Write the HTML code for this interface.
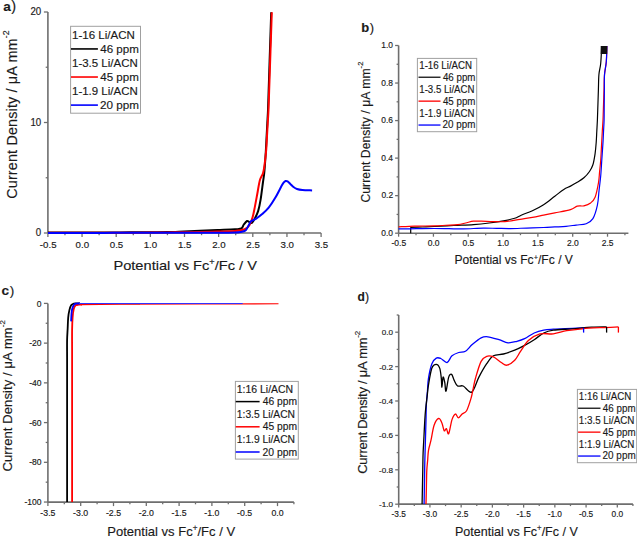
<!DOCTYPE html><html><head><meta charset="utf-8"><style>html,body{margin:0;padding:0;background:#fff;width:637px;height:536px;overflow:hidden}svg{display:block}text{font-family:"Liberation Sans",sans-serif;stroke:#1a1a1a;stroke-width:0.15px}.tk{stroke-width:0.16px}</style></head><body>
<svg width="637" height="536" viewBox="0 0 637 536">
<rect width="637" height="536" fill="#fff"/>
<line x1="47.9" y1="233" x2="321.1" y2="233" stroke="#6e6e6e" stroke-width="1.6"/>
<line x1="47.9" y1="233" x2="47.9" y2="12" stroke="#6e6e6e" stroke-width="1.6"/>
<line x1="47.9" y1="233" x2="47.9" y2="237" stroke="#6e6e6e" stroke-width="1.2800000000000002"/>
<line x1="64.97" y1="233" x2="64.97" y2="235.2" stroke="#6e6e6e" stroke-width="1.2800000000000002"/>
<line x1="82.05" y1="233" x2="82.05" y2="237" stroke="#6e6e6e" stroke-width="1.2800000000000002"/>
<line x1="99.12" y1="233" x2="99.12" y2="235.2" stroke="#6e6e6e" stroke-width="1.2800000000000002"/>
<line x1="116.2" y1="233" x2="116.2" y2="237" stroke="#6e6e6e" stroke-width="1.2800000000000002"/>
<line x1="133.28" y1="233" x2="133.28" y2="235.2" stroke="#6e6e6e" stroke-width="1.2800000000000002"/>
<line x1="150.35" y1="233" x2="150.35" y2="237" stroke="#6e6e6e" stroke-width="1.2800000000000002"/>
<line x1="167.42" y1="233" x2="167.42" y2="235.2" stroke="#6e6e6e" stroke-width="1.2800000000000002"/>
<line x1="184.5" y1="233" x2="184.5" y2="237" stroke="#6e6e6e" stroke-width="1.2800000000000002"/>
<line x1="201.57" y1="233" x2="201.57" y2="235.2" stroke="#6e6e6e" stroke-width="1.2800000000000002"/>
<line x1="218.65" y1="233" x2="218.65" y2="237" stroke="#6e6e6e" stroke-width="1.2800000000000002"/>
<line x1="235.72" y1="233" x2="235.72" y2="235.2" stroke="#6e6e6e" stroke-width="1.2800000000000002"/>
<line x1="252.8" y1="233" x2="252.8" y2="237" stroke="#6e6e6e" stroke-width="1.2800000000000002"/>
<line x1="269.88" y1="233" x2="269.88" y2="235.2" stroke="#6e6e6e" stroke-width="1.2800000000000002"/>
<line x1="286.95" y1="233" x2="286.95" y2="237" stroke="#6e6e6e" stroke-width="1.2800000000000002"/>
<line x1="304.02" y1="233" x2="304.02" y2="235.2" stroke="#6e6e6e" stroke-width="1.2800000000000002"/>
<line x1="321.1" y1="233" x2="321.1" y2="237" stroke="#6e6e6e" stroke-width="1.2800000000000002"/>
<line x1="43.9" y1="233" x2="47.9" y2="233" stroke="#6e6e6e" stroke-width="1.2800000000000002"/>
<line x1="45.7" y1="177.75" x2="47.9" y2="177.75" stroke="#6e6e6e" stroke-width="1.2800000000000002"/>
<line x1="43.9" y1="122.5" x2="47.9" y2="122.5" stroke="#6e6e6e" stroke-width="1.2800000000000002"/>
<line x1="45.7" y1="67.25" x2="47.9" y2="67.25" stroke="#6e6e6e" stroke-width="1.2800000000000002"/>
<line x1="43.9" y1="12" x2="47.9" y2="12" stroke="#6e6e6e" stroke-width="1.2800000000000002"/>
<text x="39.83" y="248.1" font-size="9.9" fill="#1a1a1a" textLength="16.72" lengthAdjust="spacingAndGlyphs" class="tk">-0.5</text>
<text x="75.61" y="248.1" font-size="9.9" fill="#1a1a1a" textLength="13.49" lengthAdjust="spacingAndGlyphs" class="tk">0.0</text>
<text x="109.77" y="248.1" font-size="9.9" fill="#1a1a1a" textLength="13.49" lengthAdjust="spacingAndGlyphs" class="tk">0.5</text>
<text x="143.73" y="248.1" font-size="9.9" fill="#1a1a1a" textLength="13.49" lengthAdjust="spacingAndGlyphs" class="tk">1.0</text>
<text x="177.89" y="248.1" font-size="9.9" fill="#1a1a1a" textLength="13.49" lengthAdjust="spacingAndGlyphs" class="tk">1.5</text>
<text x="212.15" y="248.1" font-size="9.9" fill="#1a1a1a" textLength="13.49" lengthAdjust="spacingAndGlyphs" class="tk">2.0</text>
<text x="246.32" y="248.1" font-size="9.9" fill="#1a1a1a" textLength="13.49" lengthAdjust="spacingAndGlyphs" class="tk">2.5</text>
<text x="280.51" y="248.1" font-size="9.9" fill="#1a1a1a" textLength="13.49" lengthAdjust="spacingAndGlyphs" class="tk">3.0</text>
<text x="314.68" y="248.1" font-size="9.9" fill="#1a1a1a" textLength="13.49" lengthAdjust="spacingAndGlyphs" class="tk">3.5</text>
<text x="35.78" y="236.3" font-size="10" fill="#1a1a1a" textLength="5.39" lengthAdjust="spacingAndGlyphs" class="tk">0</text>
<text x="30.39" y="125.8" font-size="10" fill="#1a1a1a" textLength="10.79" lengthAdjust="spacingAndGlyphs" class="tk">10</text>
<text x="30.39" y="15.3" font-size="10" fill="#1a1a1a" textLength="10.79" lengthAdjust="spacingAndGlyphs" class="tk">20</text>
<text x="3.2" y="10.8" font-size="13.6" font-weight="bold" fill="#1a1a1a">a</text>
<text x="11.21" y="10.58" font-size="14.6" fill="#1a1a1a">)</text>
<text transform="translate(16.5,198.8) rotate(-90)" font-size="14.4" fill="#1a1a1a" textLength="168.5">Current Density / μA mm<tspan dy="-7.4" font-size="8.8">-2</tspan></text>
<text x="113.4" y="269.8" font-size="13.6" fill="#1a1a1a" textLength="143.6" lengthAdjust="spacingAndGlyphs">Potential vs Fc<tspan dy="-5" font-size="8.5">+</tspan><tspan dy="5">/Fc / V</tspan></text>
<rect x="70.6" y="26.3" width="69.9" height="86.9" fill="#fff" stroke="#a0a0a0" stroke-width="1"/>
<text x="72.02" y="38.8" font-size="11.4" fill="#1a1a1a" textLength="62.92" lengthAdjust="spacingAndGlyphs" >1-16 Li/ACN</text>
<text x="100.23" y="52.84" font-size="11.4" fill="#1a1a1a" textLength="38.63" lengthAdjust="spacingAndGlyphs" >46 ppm</text>
<line x1="71" y1="48.94" x2="97.9" y2="48.94" stroke="#000000" stroke-width="1.6"/>
<text x="72.03" y="66.88" font-size="11.4" fill="#1a1a1a" textLength="65.71" lengthAdjust="spacingAndGlyphs" >1-3.5 Li/ACN</text>
<text x="100.23" y="80.92" font-size="11.4" fill="#1a1a1a" textLength="38.63" lengthAdjust="spacingAndGlyphs" >45 ppm</text>
<line x1="71" y1="77.02" x2="97.9" y2="77.02" stroke="#ff0000" stroke-width="1.6"/>
<text x="72.03" y="94.96" font-size="11.4" fill="#1a1a1a" textLength="65.71" lengthAdjust="spacingAndGlyphs" >1-1.9 Li/ACN</text>
<text x="99.91" y="109" font-size="11.4" fill="#1a1a1a" textLength="38.96" lengthAdjust="spacingAndGlyphs" >20 ppm</text>
<line x1="71" y1="105.1" x2="97.9" y2="105.1" stroke="#0000ff" stroke-width="1.6"/>
<path d="M48,232.6 C51,232.59 60,232.57 66,232.55 C72,232.53 78,232.52 84,232.5 C90,232.48 96,232.47 102,232.45 C108,232.43 114.33,232.43 120,232.4 C125.67,232.38 130.67,232.33 136,232.3 C141.33,232.27 146.67,232.23 152,232.2 C157.33,232.17 162.67,232.22 168,232.1 C173.33,231.97 178.67,231.67 184,231.45 C189.33,231.23 194.42,231.03 200,230.8 C205.58,230.57 211.67,230.3 217.5,230.05 C223.33,229.8 231.02,229.56 235,229.3 C238.98,229.04 239.93,229.3 241.4,228.5 C242.87,227.7 242.87,225.75 243.8,224.5 C244.73,223.25 246.07,221.4 247,221 C247.93,220.6 248.6,221.78 249.4,222.1 C250.2,222.42 250.87,223.57 251.8,222.9 C252.73,222.23 253.93,220.1 255,218.1 C256.07,216.1 257.27,213.97 258.2,210.9 C259.13,207.83 259.8,204.52 260.6,199.7 C261.4,194.88 262.38,186.55 263,182 C263.62,177.45 263.9,176.4 264.3,172.4 C264.7,168.4 265.13,161.73 265.4,158 C265.67,154.27 265.7,153.56 265.9,150 C266.1,146.44 266.37,141.11 266.6,136.67 C266.83,132.22 267.07,127.78 267.3,123.33 C267.53,118.89 267.78,115.48 268,110 C268.22,104.52 268.43,96.97 268.64,90.46 C268.85,83.95 269.07,77.43 269.28,70.92 C269.49,64.41 269.71,57.89 269.92,51.38 C270.13,44.87 270.35,38.35 270.56,31.84 C270.77,25.33 271.09,15.56 271.2,12.3" fill="none" stroke="#000000" stroke-width="2.0" stroke-linejoin="round" stroke-linecap="butt"/>
<path d="M48,232.8 C50.83,232.79 59.33,232.78 65,232.77 C70.67,232.76 76.33,232.74 82,232.73 C87.67,232.72 93.33,232.71 99,232.7 C104.67,232.69 110.33,232.68 116,232.67 C121.67,232.66 127.33,232.64 133,232.63 C138.67,232.62 144.39,232.64 150,232.6 C155.61,232.56 161.11,232.47 166.67,232.4 C172.22,232.33 177.78,232.27 183.33,232.2 C188.89,232.13 194.31,232.12 200,232 C205.69,231.88 211.67,231.67 217.5,231.5 C223.33,231.33 230.48,231.37 235,231 C239.52,230.63 242.2,230.25 244.6,229.3 C247,228.35 248.07,227.3 249.4,225.3 C250.73,223.3 251.67,220.5 252.6,217.3 C253.53,214.1 254.2,210.1 255,206.1 C255.8,202.1 256.6,197.58 257.4,193.3 C258.2,189.02 258.87,183.75 259.8,180.4 C260.73,177.05 262.2,175.87 263,173.2 C263.8,170.53 264.07,168.27 264.6,164.4 C265.13,160.53 265.81,154.62 266.2,150 C266.59,145.38 266.71,141.11 266.97,136.67 C267.22,132.22 267.48,127.78 267.73,123.33 C267.99,118.89 268.26,115.48 268.5,110 C268.74,104.52 268.94,96.97 269.16,90.46 C269.38,83.95 269.6,77.43 269.82,70.92 C270.04,64.41 270.26,57.89 270.48,51.38 C270.7,44.87 270.92,38.35 271.14,31.84 C271.36,25.33 271.69,15.56 271.8,12.3" fill="none" stroke="#ff0000" stroke-width="2.0" stroke-linejoin="round" stroke-linecap="butt"/>
<path d="M48,233 C51.12,232.99 60.47,232.97 66.7,232.96 C72.93,232.95 79.17,232.93 85.4,232.92 C91.63,232.91 97.87,232.89 104.1,232.88 C110.33,232.87 116.57,232.85 122.8,232.84 C129.03,232.83 135.27,232.81 141.5,232.8 C147.73,232.79 153.97,232.77 160.2,232.76 C166.43,232.75 172.67,232.73 178.9,232.72 C185.13,232.71 191.37,232.69 197.6,232.68 C203.83,232.67 210.07,232.65 216.3,232.64 C222.53,232.63 230.28,232.87 235,232.6 C239.72,232.33 242.47,231.93 244.6,231 C246.73,230.07 246.73,228.62 247.8,227 C248.87,225.38 249.67,222.65 251,221.3 C252.33,219.95 253.93,220.1 255.8,218.9 C257.67,217.7 260.05,215.97 262.2,214.1 C264.35,212.23 266.55,210.37 268.7,207.7 C270.85,205.03 272.97,201.7 275.1,198.1 C277.23,194.5 280.08,188.68 281.5,186.1 C282.92,183.52 282.92,183.45 283.6,182.6 C284.28,181.75 284.93,181.2 285.6,181 C286.27,180.8 286.82,180.92 287.6,181.4 C288.38,181.88 289.32,182.97 290.3,183.9 C291.28,184.83 292.38,186.15 293.5,187 C294.62,187.85 295.52,188.5 297,189 C298.48,189.5 299.88,189.77 302.4,190 C304.92,190.23 310.48,190.33 312.1,190.4" fill="none" stroke="#0000ff" stroke-width="2.0" stroke-linejoin="round" stroke-linecap="butt"/>
<line x1="398.6" y1="233.2" x2="628.41" y2="233.2" stroke="#6e6e6e" stroke-width="1.6"/>
<line x1="398.6" y1="233.2" x2="398.6" y2="45.5" stroke="#6e6e6e" stroke-width="1.6"/>
<line x1="398.6" y1="233.2" x2="398.6" y2="236.7" stroke="#6e6e6e" stroke-width="1.2800000000000002"/>
<line x1="416.01" y1="233.2" x2="416.01" y2="235.2" stroke="#6e6e6e" stroke-width="1.2800000000000002"/>
<line x1="433.42" y1="233.2" x2="433.42" y2="236.7" stroke="#6e6e6e" stroke-width="1.2800000000000002"/>
<line x1="450.83" y1="233.2" x2="450.83" y2="235.2" stroke="#6e6e6e" stroke-width="1.2800000000000002"/>
<line x1="468.24" y1="233.2" x2="468.24" y2="236.7" stroke="#6e6e6e" stroke-width="1.2800000000000002"/>
<line x1="485.65" y1="233.2" x2="485.65" y2="235.2" stroke="#6e6e6e" stroke-width="1.2800000000000002"/>
<line x1="503.06" y1="233.2" x2="503.06" y2="236.7" stroke="#6e6e6e" stroke-width="1.2800000000000002"/>
<line x1="520.47" y1="233.2" x2="520.47" y2="235.2" stroke="#6e6e6e" stroke-width="1.2800000000000002"/>
<line x1="537.88" y1="233.2" x2="537.88" y2="236.7" stroke="#6e6e6e" stroke-width="1.2800000000000002"/>
<line x1="555.29" y1="233.2" x2="555.29" y2="235.2" stroke="#6e6e6e" stroke-width="1.2800000000000002"/>
<line x1="572.7" y1="233.2" x2="572.7" y2="236.7" stroke="#6e6e6e" stroke-width="1.2800000000000002"/>
<line x1="590.11" y1="233.2" x2="590.11" y2="235.2" stroke="#6e6e6e" stroke-width="1.2800000000000002"/>
<line x1="607.52" y1="233.2" x2="607.52" y2="236.7" stroke="#6e6e6e" stroke-width="1.2800000000000002"/>
<line x1="624.93" y1="233.2" x2="624.93" y2="235.2" stroke="#6e6e6e" stroke-width="1.2800000000000002"/>
<line x1="395.1" y1="233.2" x2="398.6" y2="233.2" stroke="#6e6e6e" stroke-width="1.2800000000000002"/>
<line x1="396.6" y1="214.43" x2="398.6" y2="214.43" stroke="#6e6e6e" stroke-width="1.2800000000000002"/>
<line x1="395.1" y1="195.66" x2="398.6" y2="195.66" stroke="#6e6e6e" stroke-width="1.2800000000000002"/>
<line x1="396.6" y1="176.89" x2="398.6" y2="176.89" stroke="#6e6e6e" stroke-width="1.2800000000000002"/>
<line x1="395.1" y1="158.12" x2="398.6" y2="158.12" stroke="#6e6e6e" stroke-width="1.2800000000000002"/>
<line x1="396.6" y1="139.35" x2="398.6" y2="139.35" stroke="#6e6e6e" stroke-width="1.2800000000000002"/>
<line x1="395.1" y1="120.58" x2="398.6" y2="120.58" stroke="#6e6e6e" stroke-width="1.2800000000000002"/>
<line x1="396.6" y1="101.81" x2="398.6" y2="101.81" stroke="#6e6e6e" stroke-width="1.2800000000000002"/>
<line x1="395.1" y1="83.04" x2="398.6" y2="83.04" stroke="#6e6e6e" stroke-width="1.2800000000000002"/>
<line x1="396.6" y1="64.27" x2="398.6" y2="64.27" stroke="#6e6e6e" stroke-width="1.2800000000000002"/>
<line x1="395.1" y1="45.5" x2="398.6" y2="45.5" stroke="#6e6e6e" stroke-width="1.2800000000000002"/>
<text x="391.47" y="245.6" font-size="8.5" fill="#1a1a1a" textLength="14.65" lengthAdjust="spacingAndGlyphs" class="tk">-0.5</text>
<text x="427.71" y="245.6" font-size="8.5" fill="#1a1a1a" textLength="11.82" lengthAdjust="spacingAndGlyphs" class="tk">0.0</text>
<text x="462.54" y="245.6" font-size="8.5" fill="#1a1a1a" textLength="11.82" lengthAdjust="spacingAndGlyphs" class="tk">0.5</text>
<text x="497.19" y="245.6" font-size="8.5" fill="#1a1a1a" textLength="11.82" lengthAdjust="spacingAndGlyphs" class="tk">1.0</text>
<text x="532.03" y="245.6" font-size="8.5" fill="#1a1a1a" textLength="11.82" lengthAdjust="spacingAndGlyphs" class="tk">1.5</text>
<text x="566.94" y="245.6" font-size="8.5" fill="#1a1a1a" textLength="11.82" lengthAdjust="spacingAndGlyphs" class="tk">2.0</text>
<text x="601.78" y="245.6" font-size="8.5" fill="#1a1a1a" textLength="11.82" lengthAdjust="spacingAndGlyphs" class="tk">2.5</text>
<text x="381.33" y="236" font-size="8.5" fill="#1a1a1a" textLength="11.7" lengthAdjust="spacingAndGlyphs" class="tk">0.0</text>
<text x="381.43" y="198.46" font-size="8.5" fill="#1a1a1a" textLength="11.7" lengthAdjust="spacingAndGlyphs" class="tk">0.2</text>
<text x="381.25" y="160.92" font-size="8.5" fill="#1a1a1a" textLength="11.7" lengthAdjust="spacingAndGlyphs" class="tk">0.4</text>
<text x="381.37" y="123.38" font-size="8.5" fill="#1a1a1a" textLength="11.7" lengthAdjust="spacingAndGlyphs" class="tk">0.6</text>
<text x="381.37" y="85.84" font-size="8.5" fill="#1a1a1a" textLength="11.7" lengthAdjust="spacingAndGlyphs" class="tk">0.8</text>
<text x="381.33" y="48.3" font-size="8.5" fill="#1a1a1a" textLength="11.7" lengthAdjust="spacingAndGlyphs" class="tk">1.0</text>
<text x="361.24" y="31.9" font-size="13.0" font-weight="bold" fill="#1a1a1a">b</text>
<text x="369.72" y="31.85" font-size="12.9" fill="#1a1a1a">)</text>
<text transform="translate(370.1,202.6) rotate(-90)" font-size="12.2" fill="#1a1a1a" textLength="141">Current Density / μA mm<tspan dy="-7" font-size="7.6">-2</tspan></text>
<text x="454.5" y="264.3" font-size="12.9" fill="#1a1a1a" textLength="118.4" lengthAdjust="spacingAndGlyphs">Potential vs Fc<tspan dy="-4.7" font-size="8">+</tspan><tspan dy="4.7">/Fc / V</tspan></text>
<rect x="417.4" y="58.4" width="59.3" height="73.3" fill="#fff" stroke="#a0a0a0" stroke-width="1"/>
<text x="419.26" y="68.7" font-size="10.2" fill="#1a1a1a" textLength="52.83" lengthAdjust="spacingAndGlyphs" >1-16 Li/ACN</text>
<text x="442.88" y="80.65" font-size="10.2" fill="#1a1a1a" textLength="32.57" lengthAdjust="spacingAndGlyphs" >46 ppm</text>
<line x1="418.5" y1="77.25" x2="440.5" y2="77.25" stroke="#222" stroke-width="1.4"/>
<text x="419.27" y="92.6" font-size="10.2" fill="#1a1a1a" textLength="55.22" lengthAdjust="spacingAndGlyphs" >1-3.5 Li/ACN</text>
<text x="442.88" y="104.55" font-size="10.2" fill="#1a1a1a" textLength="32.57" lengthAdjust="spacingAndGlyphs" >45 ppm</text>
<line x1="418.5" y1="101.15" x2="440.5" y2="101.15" stroke="#ff1010" stroke-width="1.4"/>
<text x="419.27" y="116.5" font-size="10.2" fill="#1a1a1a" textLength="55.22" lengthAdjust="spacingAndGlyphs" >1-1.9 Li/ACN</text>
<text x="442.6" y="128.45" font-size="10.2" fill="#1a1a1a" textLength="32.84" lengthAdjust="spacingAndGlyphs" >20 ppm</text>
<line x1="418.5" y1="125.05" x2="440.5" y2="125.05" stroke="#1010ff" stroke-width="1.4"/>
<path d="M410.7,227.5 C412.66,227.42 418.53,227.17 422.45,227 C426.37,226.83 428.96,226.75 434.2,226.5 C439.44,226.25 447.35,225.82 453.9,225.5 C460.45,225.18 467.62,225.02 473.5,224.6 C479.38,224.18 483.97,223.67 489.2,223 C494.43,222.33 500.65,221.38 504.9,220.6 C509.15,219.82 511.98,219.2 514.7,218.3 C517.42,217.4 518.25,216.47 521.2,215.2 C524.15,213.93 528.67,212.45 532.4,210.7 C536.13,208.95 539.87,207.12 543.6,204.7 C547.33,202.28 551.43,198.75 554.8,196.2 C558.17,193.65 561.18,191.08 563.8,189.4 C566.42,187.72 568.27,187.28 570.5,186.1 C572.73,184.92 574.97,183.68 577.2,182.3 C579.43,180.92 581.85,179.6 583.9,177.8 C585.95,176 588,173.67 589.5,171.5 C591,169.33 591.97,167.78 592.9,164.8 C593.83,161.82 594.55,157.33 595.1,153.6 C595.65,149.87 595.92,146.13 596.2,142.4 C596.48,138.67 596.6,134.93 596.8,131.2 C597,127.47 597.22,124.38 597.4,120 C597.58,115.62 597.73,109.93 597.9,104.9 C598.07,99.87 598.23,94.83 598.4,89.8 C598.57,84.77 598.52,79.08 598.9,74.7 C599.28,70.32 600.23,68.28 600.7,63.5 C601.17,58.72 601.53,48.92 601.7,46" fill="none" stroke="#000000" stroke-width="1.2" stroke-linejoin="round" stroke-linecap="butt"/>
<line x1="410.7" y1="227.3" x2="410.7" y2="233.2" stroke="#000000" stroke-width="1.2"/>
<path d="M398.6,226.9 C401.27,226.77 408.67,226.27 414.6,226.1 C420.53,225.93 428.97,226.04 434.2,225.9 C439.43,225.76 442.07,225.47 446,225.25 C449.93,225.03 454.53,224.97 457.8,224.6 C461.07,224.22 462.98,223.57 465.6,223 C468.22,222.43 470.88,221.5 473.5,221.2 C476.12,220.9 478.03,221.13 481.3,221.2 C484.57,221.27 489.17,221.53 493.1,221.6 C497.03,221.67 500.42,221.98 504.9,221.6 C509.38,221.22 515.42,220 520,219.3 C524.58,218.6 528.47,218.09 532.4,217.4 C536.33,216.71 539.87,215.9 543.6,215.15 C547.33,214.4 550.32,213.83 554.8,212.9 C559.28,211.97 566.77,210.72 570.5,209.6 C574.23,208.48 574.97,206.83 577.2,206.2 C579.43,205.57 581.67,206.35 583.9,205.8 C586.13,205.25 588.73,204.32 590.6,202.9 C592.47,201.48 593.78,200.67 595.1,197.3 C596.42,193.93 597.75,187 598.5,182.7 C599.25,178.4 599.23,175.23 599.6,171.5 C599.97,167.77 600.38,164.59 600.7,160.3 C601.02,156.01 601.23,150.6 601.5,145.75 C601.77,140.9 602.05,135.49 602.3,131.2 C602.55,126.91 602.8,124.38 603,120 C603.2,115.62 603.33,109.93 603.5,104.9 C603.67,99.87 603.83,94.83 604,89.8 C604.17,84.77 604.12,79.38 604.5,74.7 C604.88,70.02 605.9,66.48 606.3,61.7 C606.7,56.92 606.8,48.62 606.9,46" fill="none" stroke="#ff0000" stroke-width="1.2" stroke-linejoin="round" stroke-linecap="butt"/>
<path d="M398.6,228.9 C401.57,228.87 410.47,228.77 416.4,228.7 C422.33,228.63 428.77,228.5 434.2,228.5 C439.62,228.5 444.03,228.63 448.95,228.7 C453.87,228.77 457.97,229 463.7,228.9 C469.43,228.8 477.81,228.19 483.3,228.1 C488.79,228.01 492.2,228.27 496.65,228.35 C501.1,228.43 504.98,228.65 510,228.6 C515.02,228.55 521.2,228.23 526.8,228.05 C532.4,227.87 538.93,227.68 543.6,227.5 C548.27,227.32 551.07,227.13 554.8,226.95 C558.53,226.77 562.45,226.72 566,226.4 C569.55,226.08 572.73,225.5 576.1,225.05 C579.47,224.6 583.4,224.77 586.2,223.7 C589,222.62 591.03,221.7 592.9,218.6 C594.77,215.5 596.38,209.77 597.4,205.1 C598.42,200.43 598.5,195.4 599.05,190.55 C599.6,185.7 600.23,181.22 600.7,176 C601.17,170.78 601.47,164.8 601.85,159.2 C602.23,153.6 602.72,147.07 603,142.4 C603.28,137.73 603.37,134.93 603.55,131.2 C603.73,127.47 603.99,124.38 604.1,120 C604.21,115.62 604.19,109.93 604.23,104.9 C604.28,99.87 604.32,94.83 604.37,89.8 C604.41,84.77 604.18,79.38 604.5,74.7 C604.82,70.02 605.9,66.48 606.3,61.7 C606.7,56.92 606.8,48.62 606.9,46" fill="none" stroke="#0000ff" stroke-width="1.2" stroke-linejoin="round" stroke-linecap="butt"/>
<rect x="600.7" y="46" width="6.5" height="8" fill="#111"/>
<line x1="47.9" y1="502.1" x2="293.9" y2="502.1" stroke="#6e6e6e" stroke-width="1.6"/>
<line x1="47.9" y1="303.4" x2="47.9" y2="502.05" stroke="#6e6e6e" stroke-width="1.6"/>
<line x1="47.9" y1="502.1" x2="47.9" y2="506.1" stroke="#6e6e6e" stroke-width="1.2800000000000002"/>
<line x1="64.3" y1="502.1" x2="64.3" y2="504.3" stroke="#6e6e6e" stroke-width="1.2800000000000002"/>
<line x1="80.7" y1="502.1" x2="80.7" y2="506.1" stroke="#6e6e6e" stroke-width="1.2800000000000002"/>
<line x1="97.1" y1="502.1" x2="97.1" y2="504.3" stroke="#6e6e6e" stroke-width="1.2800000000000002"/>
<line x1="113.5" y1="502.1" x2="113.5" y2="506.1" stroke="#6e6e6e" stroke-width="1.2800000000000002"/>
<line x1="129.9" y1="502.1" x2="129.9" y2="504.3" stroke="#6e6e6e" stroke-width="1.2800000000000002"/>
<line x1="146.3" y1="502.1" x2="146.3" y2="506.1" stroke="#6e6e6e" stroke-width="1.2800000000000002"/>
<line x1="162.7" y1="502.1" x2="162.7" y2="504.3" stroke="#6e6e6e" stroke-width="1.2800000000000002"/>
<line x1="179.1" y1="502.1" x2="179.1" y2="506.1" stroke="#6e6e6e" stroke-width="1.2800000000000002"/>
<line x1="195.5" y1="502.1" x2="195.5" y2="504.3" stroke="#6e6e6e" stroke-width="1.2800000000000002"/>
<line x1="211.9" y1="502.1" x2="211.9" y2="506.1" stroke="#6e6e6e" stroke-width="1.2800000000000002"/>
<line x1="228.3" y1="502.1" x2="228.3" y2="504.3" stroke="#6e6e6e" stroke-width="1.2800000000000002"/>
<line x1="244.7" y1="502.1" x2="244.7" y2="506.1" stroke="#6e6e6e" stroke-width="1.2800000000000002"/>
<line x1="261.1" y1="502.1" x2="261.1" y2="504.3" stroke="#6e6e6e" stroke-width="1.2800000000000002"/>
<line x1="277.5" y1="502.1" x2="277.5" y2="506.1" stroke="#6e6e6e" stroke-width="1.2800000000000002"/>
<line x1="293.9" y1="502.1" x2="293.9" y2="504.3" stroke="#6e6e6e" stroke-width="1.2800000000000002"/>
<line x1="43.9" y1="502.05" x2="47.9" y2="502.05" stroke="#6e6e6e" stroke-width="1.2800000000000002"/>
<line x1="45.7" y1="482.18" x2="47.9" y2="482.18" stroke="#6e6e6e" stroke-width="1.2800000000000002"/>
<line x1="43.9" y1="462.32" x2="47.9" y2="462.32" stroke="#6e6e6e" stroke-width="1.2800000000000002"/>
<line x1="45.7" y1="442.45" x2="47.9" y2="442.45" stroke="#6e6e6e" stroke-width="1.2800000000000002"/>
<line x1="43.9" y1="422.59" x2="47.9" y2="422.59" stroke="#6e6e6e" stroke-width="1.2800000000000002"/>
<line x1="45.7" y1="402.72" x2="47.9" y2="402.72" stroke="#6e6e6e" stroke-width="1.2800000000000002"/>
<line x1="43.9" y1="382.86" x2="47.9" y2="382.86" stroke="#6e6e6e" stroke-width="1.2800000000000002"/>
<line x1="45.7" y1="363" x2="47.9" y2="363" stroke="#6e6e6e" stroke-width="1.2800000000000002"/>
<line x1="43.9" y1="343.13" x2="47.9" y2="343.13" stroke="#6e6e6e" stroke-width="1.2800000000000002"/>
<line x1="45.7" y1="323.26" x2="47.9" y2="323.26" stroke="#6e6e6e" stroke-width="1.2800000000000002"/>
<line x1="43.9" y1="303.4" x2="47.9" y2="303.4" stroke="#6e6e6e" stroke-width="1.2800000000000002"/>
<text x="40.33" y="515.8" font-size="8.6" fill="#1a1a1a" textLength="15.12" lengthAdjust="spacingAndGlyphs" class="tk">-3.5</text>
<text x="73.12" y="515.8" font-size="8.6" fill="#1a1a1a" textLength="15.12" lengthAdjust="spacingAndGlyphs" class="tk">-3.0</text>
<text x="105.93" y="515.8" font-size="8.6" fill="#1a1a1a" textLength="15.12" lengthAdjust="spacingAndGlyphs" class="tk">-2.5</text>
<text x="138.72" y="515.8" font-size="8.6" fill="#1a1a1a" textLength="15.12" lengthAdjust="spacingAndGlyphs" class="tk">-2.0</text>
<text x="171.53" y="515.8" font-size="8.6" fill="#1a1a1a" textLength="15.12" lengthAdjust="spacingAndGlyphs" class="tk">-1.5</text>
<text x="204.32" y="515.8" font-size="8.6" fill="#1a1a1a" textLength="15.12" lengthAdjust="spacingAndGlyphs" class="tk">-1.0</text>
<text x="237.13" y="515.8" font-size="8.6" fill="#1a1a1a" textLength="15.12" lengthAdjust="spacingAndGlyphs" class="tk">-0.5</text>
<text x="271.4" y="515.8" font-size="8.6" fill="#1a1a1a" textLength="12.19" lengthAdjust="spacingAndGlyphs" class="tk">0.0</text>
<text x="36.7" y="306.5" font-size="8.6" fill="#1a1a1a" textLength="4.74" lengthAdjust="spacingAndGlyphs" class="tk">0</text>
<text x="29.13" y="346.23" font-size="8.6" fill="#1a1a1a" textLength="12.31" lengthAdjust="spacingAndGlyphs" class="tk">-20</text>
<text x="29.13" y="385.96" font-size="8.6" fill="#1a1a1a" textLength="12.31" lengthAdjust="spacingAndGlyphs" class="tk">-40</text>
<text x="29.13" y="425.69" font-size="8.6" fill="#1a1a1a" textLength="12.31" lengthAdjust="spacingAndGlyphs" class="tk">-60</text>
<text x="29.13" y="465.42" font-size="8.6" fill="#1a1a1a" textLength="12.31" lengthAdjust="spacingAndGlyphs" class="tk">-80</text>
<text x="24.39" y="505.15" font-size="8.6" fill="#1a1a1a" textLength="17.04" lengthAdjust="spacingAndGlyphs" class="tk">-100</text>
<text x="1.57" y="295.2" font-size="13.6" font-weight="bold" fill="#1a1a1a">c</text>
<text x="9.82" y="294.95" font-size="13.6" fill="#1a1a1a">)</text>
<text transform="translate(12,471.5) rotate(-90)" font-size="13" fill="#1a1a1a" textLength="151.5">Current Density / μA mm<tspan dy="-7" font-size="8">-2</tspan></text>
<text x="107.2" y="535.5" font-size="13.4" fill="#1a1a1a" textLength="128" lengthAdjust="spacingAndGlyphs">Potential vs Fc<tspan dy="-5" font-size="8.3">+</tspan><tspan dy="5">/Fc / V</tspan></text>
<rect x="235.4" y="381.4" width="62.9" height="77.7" fill="#fff" stroke="#a0a0a0" stroke-width="1"/>
<text x="236.8" y="392.5" font-size="10.2" fill="#1a1a1a" textLength="56.35" lengthAdjust="spacingAndGlyphs" >1:16 Li/ACN</text>
<text x="262.76" y="405.1" font-size="10.2" fill="#1a1a1a" textLength="34.31" lengthAdjust="spacingAndGlyphs" >46 ppm</text>
<line x1="235.7" y1="401.6" x2="259.6" y2="401.6" stroke="#000000" stroke-width="1.5"/>
<text x="236.82" y="417.7" font-size="10.2" fill="#1a1a1a" textLength="58.22" lengthAdjust="spacingAndGlyphs" >1:3.5 Li/ACN</text>
<text x="262.76" y="430.3" font-size="10.2" fill="#1a1a1a" textLength="34.31" lengthAdjust="spacingAndGlyphs" >45 ppm</text>
<line x1="235.7" y1="426.8" x2="259.6" y2="426.8" stroke="#ff0000" stroke-width="1.5"/>
<text x="236.82" y="442.9" font-size="10.2" fill="#1a1a1a" textLength="58.22" lengthAdjust="spacingAndGlyphs" >1:1.9 Li/ACN</text>
<text x="262.48" y="455.5" font-size="10.2" fill="#1a1a1a" textLength="34.61" lengthAdjust="spacingAndGlyphs" >20 ppm</text>
<line x1="235.7" y1="452" x2="259.6" y2="452" stroke="#0000ff" stroke-width="1.5"/>
<path d="M67.1,502.1 C67.1,499.1 67.1,490.09 67.1,484.09 C67.1,478.09 67.1,472.08 67.1,466.08 C67.1,460.07 67.1,454.07 67.1,448.07 C67.1,442.06 67.1,436.06 67.1,430.06 C67.1,424.05 67.1,418.05 67.1,412.04 C67.1,406.04 67.1,400.04 67.1,394.03 C67.1,388.03 67.1,382.03 67.1,376.02 C67.1,370.02 67.1,364.01 67.1,358.01 C67.1,352.01 67.01,344.87 67.1,340 C67.19,335.13 67.47,332.53 67.65,328.8 C67.83,325.07 67.91,320.72 68.2,317.6 C68.49,314.48 68.88,312.18 69.4,310.1 C69.92,308.02 70.57,306.17 71.3,305.1 C72.03,304.03 72.97,303.97 73.8,303.7 C74.63,303.43 75.27,303.53 76.3,303.5 C77.33,303.47 79.38,303.5 80,303.5" fill="none" stroke="#000000" stroke-width="1.8" stroke-linejoin="round" stroke-linecap="butt"/>
<line x1="79" y1="303.5" x2="140" y2="303.6" stroke="#000000" stroke-width="1.1"/>
<path d="M72.1,502.1 C72.1,498.91 72.1,489.35 72.1,482.98 C72.1,476.6 72.1,470.23 72.1,463.86 C72.1,457.48 72.1,451.11 72.1,444.73 C72.1,438.36 72.1,431.99 72.1,425.61 C72.1,419.24 72.1,412.86 72.1,406.49 C72.1,400.11 72.1,393.74 72.1,387.37 C72.1,380.99 72.1,374.62 72.1,368.24 C72.1,361.87 72.1,355.5 72.1,349.12 C72.1,342.75 72.02,335.25 72.1,330 C72.18,324.75 72.32,321.13 72.6,317.6 C72.88,314.07 73.28,310.83 73.8,308.8 C74.32,306.77 74.87,306.08 75.7,305.4 C76.53,304.72 77.75,304.83 78.8,304.7 C79.85,304.57 81.47,304.62 82,304.6" fill="none" stroke="#ff0000" stroke-width="1.8" stroke-linejoin="round" stroke-linecap="butt"/>
<path d="M81,304.6 L120,304.3 L200,304 L278.5,303.8" fill="none" stroke="#ff0000" stroke-width="1.1"/>
<path d="M71.1,321.4 C71.18,319.93 71.35,314.9 71.6,312.6 C71.85,310.3 72.13,308.97 72.6,307.6 C73.07,306.23 73.78,305.07 74.4,304.4 C75.02,303.73 75.37,303.75 76.3,303.6 C77.23,303.45 79.38,303.52 80,303.5" fill="none" stroke="#0000ff" stroke-width="1.8" stroke-linejoin="round" stroke-linecap="butt"/>
<line x1="79" y1="303.5" x2="242.7" y2="303.5" stroke="#3030ff" stroke-width="1.1"/>
<line x1="398.7" y1="504.1" x2="632.92" y2="504.1" stroke="#6e6e6e" stroke-width="1.6"/>
<line x1="398.7" y1="315" x2="398.7" y2="504.2" stroke="#6e6e6e" stroke-width="1.6"/>
<line x1="398.7" y1="504.1" x2="398.7" y2="507.6" stroke="#6e6e6e" stroke-width="1.2800000000000002"/>
<line x1="414.31" y1="504.1" x2="414.31" y2="506.1" stroke="#6e6e6e" stroke-width="1.2800000000000002"/>
<line x1="429.93" y1="504.1" x2="429.93" y2="507.6" stroke="#6e6e6e" stroke-width="1.2800000000000002"/>
<line x1="445.54" y1="504.1" x2="445.54" y2="506.1" stroke="#6e6e6e" stroke-width="1.2800000000000002"/>
<line x1="461.16" y1="504.1" x2="461.16" y2="507.6" stroke="#6e6e6e" stroke-width="1.2800000000000002"/>
<line x1="476.77" y1="504.1" x2="476.77" y2="506.1" stroke="#6e6e6e" stroke-width="1.2800000000000002"/>
<line x1="492.39" y1="504.1" x2="492.39" y2="507.6" stroke="#6e6e6e" stroke-width="1.2800000000000002"/>
<line x1="508" y1="504.1" x2="508" y2="506.1" stroke="#6e6e6e" stroke-width="1.2800000000000002"/>
<line x1="523.62" y1="504.1" x2="523.62" y2="507.6" stroke="#6e6e6e" stroke-width="1.2800000000000002"/>
<line x1="539.24" y1="504.1" x2="539.24" y2="506.1" stroke="#6e6e6e" stroke-width="1.2800000000000002"/>
<line x1="554.85" y1="504.1" x2="554.85" y2="507.6" stroke="#6e6e6e" stroke-width="1.2800000000000002"/>
<line x1="570.47" y1="504.1" x2="570.47" y2="506.1" stroke="#6e6e6e" stroke-width="1.2800000000000002"/>
<line x1="586.08" y1="504.1" x2="586.08" y2="507.6" stroke="#6e6e6e" stroke-width="1.2800000000000002"/>
<line x1="601.69" y1="504.1" x2="601.69" y2="506.1" stroke="#6e6e6e" stroke-width="1.2800000000000002"/>
<line x1="617.31" y1="504.1" x2="617.31" y2="507.6" stroke="#6e6e6e" stroke-width="1.2800000000000002"/>
<line x1="632.92" y1="504.1" x2="632.92" y2="506.1" stroke="#6e6e6e" stroke-width="1.2800000000000002"/>
<line x1="395.2" y1="504.2" x2="398.7" y2="504.2" stroke="#6e6e6e" stroke-width="1.2800000000000002"/>
<line x1="396.7" y1="487" x2="398.7" y2="487" stroke="#6e6e6e" stroke-width="1.2800000000000002"/>
<line x1="395.2" y1="469.8" x2="398.7" y2="469.8" stroke="#6e6e6e" stroke-width="1.2800000000000002"/>
<line x1="396.7" y1="452.6" x2="398.7" y2="452.6" stroke="#6e6e6e" stroke-width="1.2800000000000002"/>
<line x1="395.2" y1="435.4" x2="398.7" y2="435.4" stroke="#6e6e6e" stroke-width="1.2800000000000002"/>
<line x1="396.7" y1="418.2" x2="398.7" y2="418.2" stroke="#6e6e6e" stroke-width="1.2800000000000002"/>
<line x1="395.2" y1="401" x2="398.7" y2="401" stroke="#6e6e6e" stroke-width="1.2800000000000002"/>
<line x1="396.7" y1="383.8" x2="398.7" y2="383.8" stroke="#6e6e6e" stroke-width="1.2800000000000002"/>
<line x1="395.2" y1="366.6" x2="398.7" y2="366.6" stroke="#6e6e6e" stroke-width="1.2800000000000002"/>
<line x1="396.7" y1="349.4" x2="398.7" y2="349.4" stroke="#6e6e6e" stroke-width="1.2800000000000002"/>
<line x1="395.2" y1="332.2" x2="398.7" y2="332.2" stroke="#6e6e6e" stroke-width="1.2800000000000002"/>
<line x1="396.7" y1="315" x2="398.7" y2="315" stroke="#6e6e6e" stroke-width="1.2800000000000002"/>
<text x="391.54" y="516.6" font-size="8.3" fill="#1a1a1a" textLength="14.3" lengthAdjust="spacingAndGlyphs" class="tk">-3.5</text>
<text x="422.76" y="516.6" font-size="8.3" fill="#1a1a1a" textLength="14.3" lengthAdjust="spacingAndGlyphs" class="tk">-3.0</text>
<text x="454" y="516.6" font-size="8.3" fill="#1a1a1a" textLength="14.3" lengthAdjust="spacingAndGlyphs" class="tk">-2.5</text>
<text x="485.22" y="516.6" font-size="8.3" fill="#1a1a1a" textLength="14.3" lengthAdjust="spacingAndGlyphs" class="tk">-2.0</text>
<text x="516.46" y="516.6" font-size="8.3" fill="#1a1a1a" textLength="14.3" lengthAdjust="spacingAndGlyphs" class="tk">-1.5</text>
<text x="547.68" y="516.6" font-size="8.3" fill="#1a1a1a" textLength="14.3" lengthAdjust="spacingAndGlyphs" class="tk">-1.0</text>
<text x="578.92" y="516.6" font-size="8.3" fill="#1a1a1a" textLength="14.3" lengthAdjust="spacingAndGlyphs" class="tk">-0.5</text>
<text x="611.54" y="516.6" font-size="8.3" fill="#1a1a1a" textLength="11.54" lengthAdjust="spacingAndGlyphs" class="tk">0.0</text>
<text x="381.76" y="335.1" font-size="8.1" fill="#1a1a1a" textLength="11.26" lengthAdjust="spacingAndGlyphs" class="tk">0.0</text>
<text x="379.15" y="369.5" font-size="8.1" fill="#1a1a1a" textLength="13.96" lengthAdjust="spacingAndGlyphs" class="tk">-0.2</text>
<text x="378.98" y="403.9" font-size="8.1" fill="#1a1a1a" textLength="13.96" lengthAdjust="spacingAndGlyphs" class="tk">-0.4</text>
<text x="379.1" y="438.3" font-size="8.1" fill="#1a1a1a" textLength="13.96" lengthAdjust="spacingAndGlyphs" class="tk">-0.6</text>
<text x="379.09" y="472.7" font-size="8.1" fill="#1a1a1a" textLength="13.96" lengthAdjust="spacingAndGlyphs" class="tk">-0.8</text>
<text x="379.06" y="507.1" font-size="8.1" fill="#1a1a1a" textLength="13.96" lengthAdjust="spacingAndGlyphs" class="tk">-1.0</text>
<text x="357.51" y="300.6" font-size="12.0" font-weight="bold" fill="#1a1a1a">d</text>
<text x="365.03" y="301.09" font-size="12.4" fill="#1a1a1a">)</text>
<text transform="translate(367.2,473.8) rotate(-90)" font-size="13" fill="#1a1a1a" textLength="143">Current Density / μA mm<tspan dy="-7" font-size="8">-2</tspan></text>
<text x="455" y="536.2" font-size="13.4" fill="#1a1a1a" textLength="122.8" lengthAdjust="spacingAndGlyphs">Potential vs Fc<tspan dy="-5" font-size="8.3">+</tspan><tspan dy="5">/Fc / V</tspan></text>
<rect x="577.4" y="389.4" width="59.3" height="73.3" fill="#fff" stroke="#a0a0a0" stroke-width="1"/>
<text x="578.86" y="399.7" font-size="10.2" fill="#1a1a1a" textLength="52.54" lengthAdjust="spacingAndGlyphs" >1:16 Li/ACN</text>
<text x="602.87" y="411.65" font-size="10.2" fill="#1a1a1a" textLength="32.77" lengthAdjust="spacingAndGlyphs" >46 ppm</text>
<line x1="578.1" y1="408.25" x2="600.5" y2="408.25" stroke="#222" stroke-width="1.4"/>
<text x="578.85" y="423.6" font-size="10.2" fill="#1a1a1a" textLength="55.55" lengthAdjust="spacingAndGlyphs" >1:3.5 Li/ACN</text>
<text x="602.87" y="435.55" font-size="10.2" fill="#1a1a1a" textLength="32.77" lengthAdjust="spacingAndGlyphs" >45 ppm</text>
<line x1="578.1" y1="432.15" x2="600.5" y2="432.15" stroke="#ff1010" stroke-width="1.4"/>
<text x="578.85" y="447.5" font-size="10.2" fill="#1a1a1a" textLength="55.55" lengthAdjust="spacingAndGlyphs" >1:1.9 Li/ACN</text>
<text x="602.6" y="459.45" font-size="10.2" fill="#1a1a1a" textLength="33.05" lengthAdjust="spacingAndGlyphs" >20 ppm</text>
<line x1="578.1" y1="456.05" x2="600.5" y2="456.05" stroke="#1010ff" stroke-width="1.4"/>
<path d="M424.1,504.1 C424.14,501.76 424.26,494.74 424.33,490.07 C424.41,485.39 424.49,480.71 424.57,476.03 C424.64,471.36 424.69,466.67 424.8,462 C424.91,457.33 425.07,452.67 425.2,448 C425.33,443.33 425.47,438.67 425.6,434 C425.73,429.33 425.88,424.82 426,420 C426.12,415.18 426.07,409.83 426.3,405.1 C426.53,400.38 427.03,396.13 427.4,391.65 C427.77,387.17 427.75,382.86 428.5,378.2 C429.25,373.54 430.6,367.05 431.9,363.7 C433.2,360.35 434.82,358.97 436.3,358.1 C437.78,357.23 439,357.77 440.8,358.5 C442.6,359.23 445.23,362.95 447.1,362.5 C448.97,362.05 450.07,357.47 452,355.8 C453.93,354.13 456.47,353.25 458.7,352.5 C460.93,351.75 463.15,352.62 465.4,351.3 C467.65,349.98 469.58,346.83 472.2,344.6 C474.82,342.37 478.5,339.2 481.1,337.9 C483.7,336.6 484.82,336.5 487.8,336.8 C490.78,337.1 495.63,338.7 499,339.7 C502.37,340.7 505.02,342.53 508,342.8 C510.98,343.07 514.13,341.98 516.9,341.3 C519.67,340.62 521.72,340.08 524.6,338.7 C527.48,337.32 531.02,334.43 534.2,333 C537.38,331.57 540.52,330.73 543.7,330.1 C546.88,329.47 548.5,329.48 553.3,329.2 C558.1,328.92 567.45,328.63 572.5,328.4 C577.55,328.17 581.75,327.9 583.6,327.8" fill="none" stroke="#0000ff" stroke-width="1.3" stroke-linejoin="round" stroke-linecap="butt"/>
<path d="M422.1,504.1 C422.16,501.29 422.32,492.88 422.43,487.27 C422.54,481.66 422.66,476.04 422.77,470.43 C422.88,464.82 422.9,459.21 423.1,453.6 C423.3,447.99 423.67,442.4 423.95,436.8 C424.23,431.2 424.53,424.55 424.8,420 C425.07,415.45 425.23,413.3 425.6,409.5 C425.98,405.7 426.57,401.3 427.05,397.2 C427.53,393.1 427.69,389.75 428.5,384.9 C429.31,380.05 430.6,371.53 431.9,368.1 C433.2,364.67 435,364.3 436.3,364.3 C437.6,364.3 438.87,365.78 439.7,368.1 C440.53,370.42 440.93,375.02 441.3,378.2 C441.67,381.38 441.6,387.38 441.9,387.2 C442.2,387.02 442.62,377.85 443.1,377.1 C443.58,376.35 444.32,380.35 444.8,382.7 C445.28,385.05 445.35,392.13 446,391.2 C446.65,390.27 447.77,379.9 448.7,377.1 C449.63,374.3 450.68,373.85 451.6,374.4 C452.52,374.95 453.2,378.47 454.2,380.4 C455.2,382.33 456.1,385.07 457.6,386 C459.1,386.93 460.85,384.98 463.2,386 C465.55,387.02 469.08,393.58 471.7,392.1 C474.32,390.62 476.4,381.83 478.9,377.1 C481.4,372.37 484.28,367.25 486.7,363.7 C489.12,360.15 490.6,357.42 493.4,355.8 C496.2,354.18 499.95,354.93 503.5,354 C507.05,353.07 511.18,351.63 514.7,350.2 C518.22,348.77 521.35,347.15 524.6,345.4 C527.85,343.65 531.02,341.77 534.2,339.7 C537.38,337.63 540.52,334.6 543.7,333 C546.88,331.4 548.5,330.8 553.3,330.1 C558.1,329.4 566.12,329.28 572.5,328.8 C578.88,328.32 585.92,327.52 591.6,327.2 C597.28,326.88 604.1,326.95 606.6,326.9" fill="none" stroke="#000000" stroke-width="1.3" stroke-linejoin="round" stroke-linecap="butt"/>
<path d="M426,504.1 C426.07,501.29 426.27,492.87 426.4,487.25 C426.53,481.63 426.59,474.88 426.8,470.4 C427.01,465.92 427.37,463.7 427.65,460.35 C427.93,457 427.94,453.66 428.5,450.3 C429.06,446.94 430.07,444.38 431,440.2 C431.93,436.02 432.83,428.82 434.1,425.2 C435.37,421.58 437.3,418.87 438.6,418.5 C439.9,418.13 440.97,420.95 441.9,423 C442.83,425.05 443.45,429.87 444.2,430.8 C444.95,431.73 445.65,428.12 446.4,428.6 C447.15,429.08 447.77,435.2 448.7,433.7 C449.63,432.2 450.88,422.88 452,419.6 C453.12,416.32 454.35,414.3 455.4,414 C456.45,413.7 457.18,417.8 458.3,417.8 C459.42,417.8 460.72,415.18 462.1,414 C463.48,412.82 465.12,413.3 466.6,410.7 C468.08,408.1 469.89,402.13 471,398.4 C472.11,394.67 472.5,391.67 473.25,388.3 C474,384.93 474.19,382.68 475.5,378.2 C476.81,373.72 479.23,365.05 481.1,361.4 C482.97,357.75 484.65,357.05 486.7,356.3 C488.75,355.55 490.97,355.87 493.4,356.9 C495.83,357.93 499.05,361.12 501.3,362.5 C503.55,363.88 504.67,365.57 506.9,365.2 C509.13,364.83 512.4,362.63 514.7,360.3 C517,357.97 518.42,354.48 520.7,351.2 C522.98,347.92 525.2,343.48 528.4,340.6 C531.6,337.72 535.75,335.02 539.9,333.9 C544.05,332.78 548.83,334.43 553.3,333.9 C557.77,333.37 561.92,331.55 566.7,330.7 C571.48,329.85 576.25,329.32 582,328.8 C587.75,328.28 595.13,327.92 601.2,327.6 C607.27,327.28 615.53,327.02 618.4,326.9" fill="none" stroke="#ff0000" stroke-width="1.3" stroke-linejoin="round" stroke-linecap="butt"/>
<line x1="583.6" y1="327.8" x2="583.6" y2="332.6" stroke="#0000ff" stroke-width="1.3"/>
<line x1="606.6" y1="326.9" x2="606.6" y2="332.6" stroke="#000000" stroke-width="1.3"/>
<line x1="618.4" y1="326.9" x2="618.4" y2="332.6" stroke="#ff0000" stroke-width="1.3"/>
</svg></body></html>
